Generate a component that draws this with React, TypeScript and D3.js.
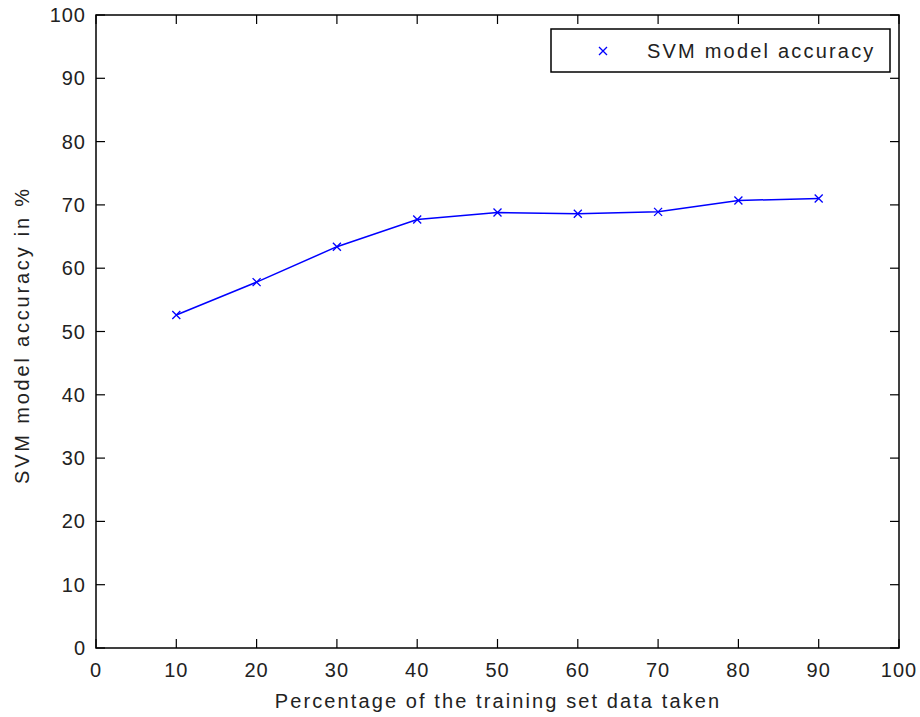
import React from "react";
import * as d3 from "d3";

const trainPct = [10, 20, 30, 40, 50, 60, 70, 80, 90];
const accuracy = [52.6, 57.8, 63.4, 67.7, 68.8, 68.6, 68.9, 70.7, 71.0];
const xTicks = [0, 10, 20, 30, 40, 50, 60, 70, 80, 90, 100];
const yTicks = [0, 10, 20, 30, 40, 50, 60, 70, 80, 90, 100];
const seriesName = "SVM model accuracy";
const xLabel = "Percentage of the training set data taken";
const yLabel = "SVM model accuracy in %";

export default function App() {
  const W = 920, H = 717;
  const L = 96, R = 899, T = 15, B = 648;
  const x = d3.scaleLinear().domain([0, 100]).range([L, R]);
  const y = d3.scaleLinear().domain([0, 100]).range([B, T]);
  const line = d3.line<number>().x((_, i) => x(trainPct[i])).y((d) => y(d));
  const tl = 9;
  const font = "'Liberation Sans', Arial, sans-serif";
  const fs = 20;
  const mk = 4;
  const cross = (cx: number, cy: number) =>
    `M${cx - mk},${cy - mk}L${cx + mk},${cy + mk}M${cx - mk},${cy + mk}L${cx + mk},${cy - mk}`;
  return (
    <svg width={W} height={H} style={{ position: "absolute", left: 0, top: 0, background: "#fff" }}>
      <rect x={0} y={0} width={W} height={H} fill="#fff" />
      {xTicks.map((t) => (
        <g key={"x" + t}>
          <line x1={x(t)} x2={x(t)} y1={B} y2={B - tl} stroke="#000" strokeWidth={1.2} />
          <line x1={x(t)} x2={x(t)} y1={T} y2={T + tl} stroke="#000" strokeWidth={1.2} />
          <text x={x(t)} y={677} textAnchor="middle" fontFamily={font} fontSize={fs} letterSpacing={1} fill="#222">{t}</text>
        </g>
      ))}
      {yTicks.map((t) => (
        <g key={"y" + t}>
          <line x1={L} x2={L + tl} y1={y(t)} y2={y(t)} stroke="#000" strokeWidth={1.2} />
          <line x1={R} x2={R - tl} y1={y(t)} y2={y(t)} stroke="#000" strokeWidth={1.2} />
          <text x={86} y={y(t) + 7} textAnchor="end" fontFamily={font} fontSize={fs} letterSpacing={1} fill="#222">{t}</text>
        </g>
      ))}
      <rect x={L} y={T} width={R - L} height={B - T} fill="none" stroke="#000" strokeWidth={1.5} />
      <path d={line(accuracy) || ""} fill="none" stroke="#0000ff" strokeWidth={1.5} />
      {accuracy.map((v, i) => (
        <path key={i} d={cross(x(trainPct[i]), y(v))} stroke="#0000ff" strokeWidth={1.3} fill="none" />
      ))}
      <rect x={551} y={29} width={339} height={43} fill="#fff" stroke="#000" strokeWidth={1.5} />
      <path d={cross(603, 51)} stroke="#0000ff" strokeWidth={1.3} fill="none" />
      <text x={647} y={58} fontFamily={font} fontSize={fs} letterSpacing={2.2} fill="#222">{seriesName}</text>
      <text x={498} y={708} textAnchor="middle" fontFamily={font} fontSize={fs} letterSpacing={2.1} fill="#222">{xLabel}</text>
      <text transform={`translate(29,335) rotate(-90)`} textAnchor="middle" fontFamily={font} fontSize={fs} letterSpacing={2.8} fill="#222">{yLabel}</text>
    </svg>
  );
}
